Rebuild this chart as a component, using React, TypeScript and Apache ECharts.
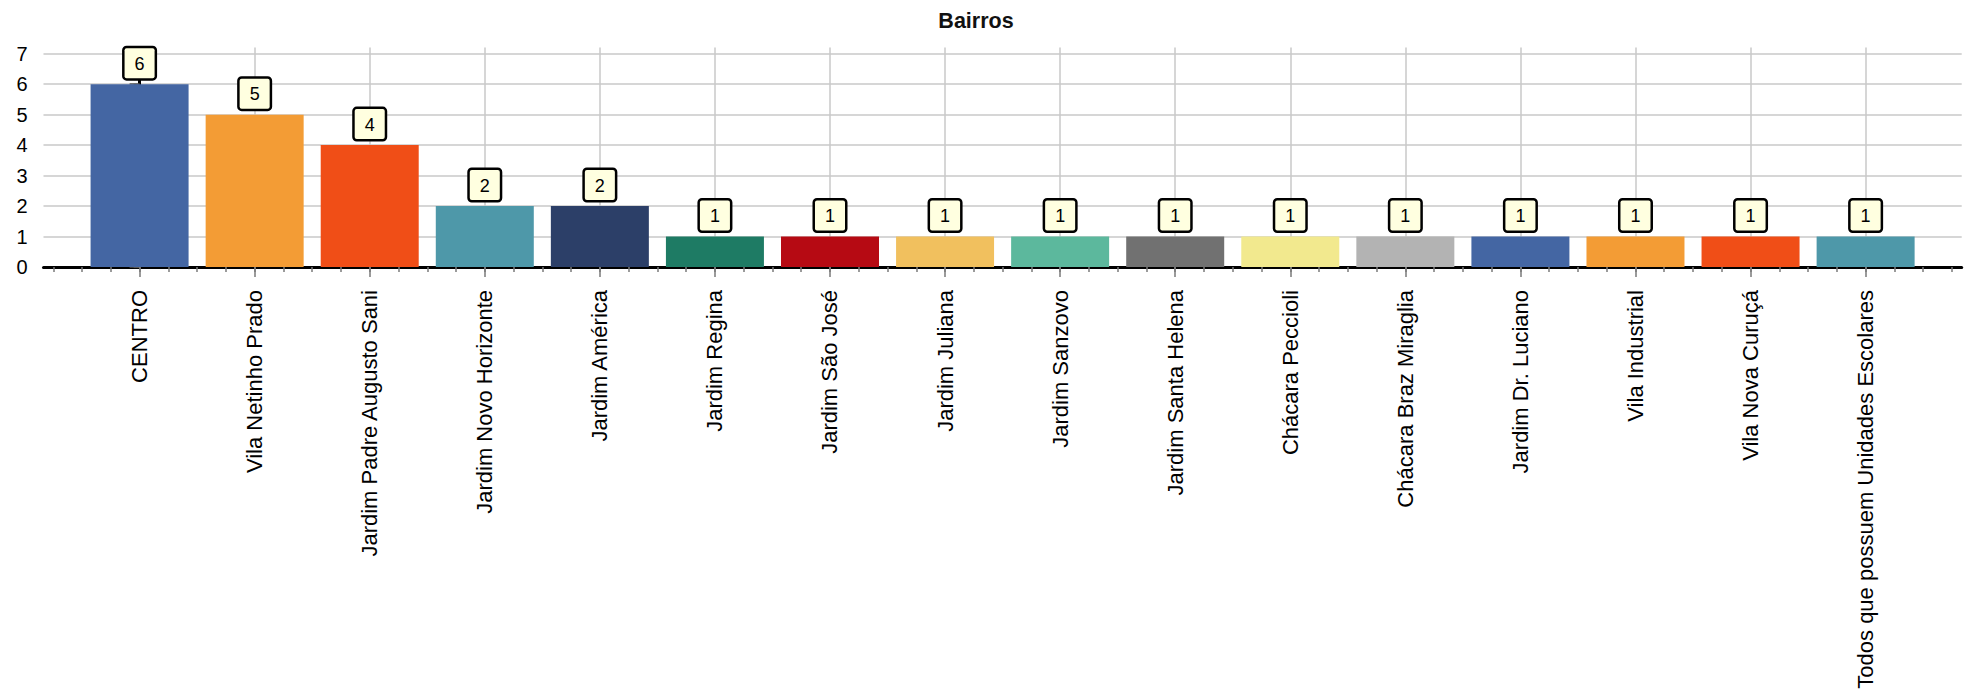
import React, { useEffect, useRef } from "react";
import * as echarts from "echarts";

const titleText = "Bairros";
const categories = [
  "CENTRO",
  "Vila Netinho Prado",
  "Jardim Padre Augusto Sani",
  "Jardim Novo Horizonte",
  "Jardim América",
  "Jardim Regina",
  "Jardim São José",
  "Jardim Juliana",
  "Jardim Sanzovo",
  "Jardim Santa Helena",
  "Chácara Peccioli",
  "Chácara Braz Miraglia",
  "Jardim Dr. Luciano",
  "Vila Industrial",
  "Vila Nova Curuçá",
  "Todos que possuem Unidades Escolares",
];
const values = [6, 5, 4, 2, 2, 1, 1, 1, 1, 1, 1, 1, 1, 1, 1, 1];
const barColors = [
  "#4466a3",
  "#f39c35",
  "#f04e17",
  "#4e98a9",
  "#2c3f68",
  "#1e7b64",
  "#b60a13",
  "#f1c05e",
  "#5cb89d",
  "#717171",
  "#f2e98e",
  "#b3b3b3",
  "#4466a3",
  "#f39c35",
  "#f04e17",
  "#4e98a9",
];
const yTickValues = [0, 1, 2, 3, 4, 5, 6, 7];
const yTickLabels = ["0", "1", "2", "3", "4", "5", "6", "7"];
const yMax = 7.2;
const xMin = -0.835;
const xMax = 15.835;

const FONT = "'Liberation Sans', Arial, Helvetica, sans-serif";

export default function App() {
  const ref = useRef<HTMLDivElement>(null);

  useEffect(() => {
    if (!ref.current) return;
    const chart = echarts.init(ref.current, undefined, { renderer: "svg" });

    const xMajor = categories.map((_, i) => i);
    const xMinor: number[] = [];
    for (let v = -0.75; v <= 15.75 + 1e-9; v += 0.25) xMinor.push(Math.round(v * 100) / 100);
    const yMinor: number[] = [];
    for (let k = 0; k <= 7 * 6; k++) yMinor.push(k / 6);

    chart.setOption({
      animation: false,
      textStyle: { fontFamily: FONT },
      graphic: [
        {
          type: "text",
          x: 976,
          y: 10,
          style: {
            text: titleText,
            font: `bold 21.5px ${FONT}`,
            fill: "#111",
            textAlign: "center",
            textVerticalAlign: "top",
          },
        },
      ],
      grid: { left: 43.5, right: 15.3, top: 47.6, bottom: 433, containLabel: false },
      xAxis: [
        {
          type: "value",
          min: xMin,
          max: xMax,
          position: "bottom",
          offset: 3,
          axisLine: { show: true, lineStyle: { color: "#000", width: 3 } },
          axisTick: { show: true, customValues: xMinor, length: 5, lineStyle: { color: "#7a7a7a", width: 1.5 } },
          axisLabel: { show: false },
          splitLine: { show: false },
        },
        {
          type: "value",
          min: xMin,
          max: xMax,
          position: "bottom",
          offset: 3,
          axisLine: { show: false },
          axisTick: { show: true, customValues: xMajor, length: 10, lineStyle: { color: "#7a7a7a", width: 1.5 } },
          axisLabel: {
            show: true,
            customValues: xMajor,
            rotate: 90,
            margin: 20,
            fontSize: 22,
            color: "#000",
            fontFamily: FONT,
            formatter: (v: number) => categories[Math.round(v)] ?? "",
          },
          splitLine: { show: true, lineStyle: { color: "#c8c8c8", width: 1.5 } },
        },
      ],
      yAxis: [
        {
          type: "value",
          min: 0,
          max: yMax,
          position: "left",
          axisLine: { show: true, lineStyle: { color: "#000", width: 3 } },
          axisTick: { show: true, customValues: yTickValues, length: 10, lineStyle: { color: "#555", width: 1.5 } },
          axisLabel: {
            show: true,
            customValues: yTickValues,
            margin: 16,
            fontSize: 20,
            color: "#000",
            fontFamily: FONT,
            formatter: (v: number) => yTickLabels[yTickValues.indexOf(Math.round(v))] ?? "",
          },
          splitLine: { show: true, lineStyle: { color: "#c8c8c8", width: 1.5 } },
        },
        {
          type: "value",
          min: 0,
          max: yMax,
          position: "left",
          axisLine: { show: false },
          axisTick: { show: true, customValues: yMinor, length: 6, lineStyle: { color: "#555", width: 1.2 } },
          axisLabel: { show: false },
          splitLine: { show: false },
        },
      ],
      series: [
        {
          type: "bar",
          xAxisIndex: 1,
          yAxisIndex: 0,
          barWidth: 98,
          data: categories.map((c, i) => ({
            name: c,
            value: [i, values[i]],
            itemStyle: { color: barColors[i] },
          })),
          label: {
            show: true,
            position: "top",
            distance: 6,
            formatter: (p: any) => String(p.value[1]),
            fontSize: 18,
            lineHeight: 19,
            color: "#000",
            fontFamily: FONT,
            backgroundColor: "#ffffe0",
            borderColor: "#000",
            borderWidth: 2.5,
            borderRadius: 2,
            padding: [6, 10, 5, 10],
          },
        },
      ],
    });

    return () => chart.dispose();
  }, []);

  return (
    <div
      ref={ref}
      style={{ position: "fixed", left: 0, top: 0, width: 1977, height: 700, background: "#fff" }}
    />
  );
}
